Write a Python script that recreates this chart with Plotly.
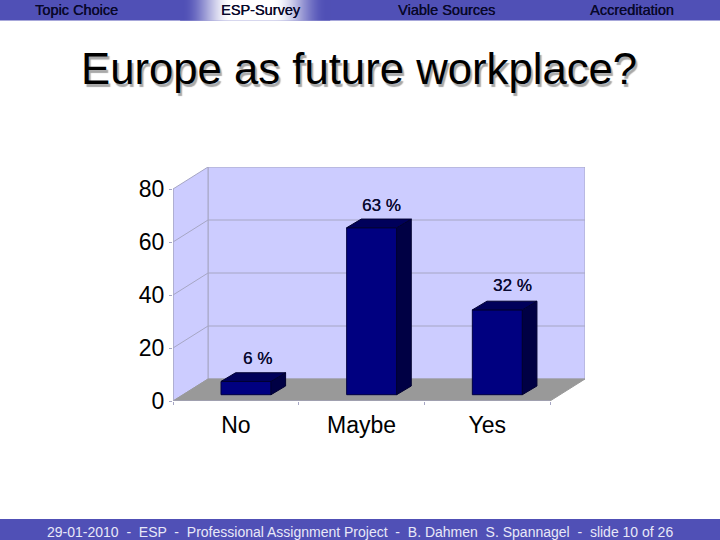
import plotly.graph_objects as go

# --- data ---
categories = ["No", "Maybe", "Yes"]
bar_values = [5, 63, 32]
bar_labels = ["6 %", "63 %", "32 %"]
y_ticks = [0, 20, 40, 60, 80]
nav_items = ["Topic Choice", "ESP-Survey", "Viable Sources", "Accreditation"]
title_text = "Europe as future workplace?"
footer_text = "29-01-2010  -  ESP  -  Professional Assignment Project  -  B. Dahmen  S. Spannagel  -  slide 10 of 26"

# --- layout geometry (pixels) ---
W, H = 720, 540
L, R, T, B = 173, 585, 167, 401
PX_X = 125.67   # px per category
PX_Y = 2.65     # px per value unit
DX, DY = 35 / PX_X, 22 / PX_Y   # chart depth in data units
FLOOR_FRONT = 6.3 / PX_Y        # bar base inset
BX, BY = 14.6 / PX_X, 8.7 / PX_Y  # bar depth
BAR_W = 50 / PX_X
BAR_OFF = (221 - 173) / PX_X
YMAX = 80
FRONT, SIDE, TOP = "#000080", "#000044", "#00005a"
BAND_RGB = (0x50, 0x50, 0xb6)
BAND = "rgb(%d,%d,%d)" % BAND_RGB
WALL = "#ccccff"
GRID = "#a6a6c4"

px = lambda x: (x - L) / (R - L)
py = lambda y: (B - y) / (B - T)


def rect_paper(x0, y0, x1, y1, color, **kw):
    return dict(type="rect", xref="paper", yref="paper", x0=px(x0), x1=px(x1),
                y0=py(y0), y1=py(y1), fillcolor=color, line_width=0, layer="below", **kw)


def smooth(t):
    t = min(1.0, max(0.0, t))
    return t * t * (3 - 2 * t)


shapes = [
    rect_paper(0, 0, W, 20.5, BAND),
    rect_paper(0, 519, W, H, BAND),
]
# highlighted tab gradient in the top band
for s in range(180, 330):
    a = smooth((s - 182) / 50) * (1 - smooth((s - 272) / 54))
    c = tuple(int(round(b + (255 - b) * a)) for b in BAND_RGB)
    shapes.append(rect_paper(s, 0, s + 1.2, 20.5, f"rgb{c}"))

line = dict(color=GRID, width=1)
# back wall, side wall, floor
shapes.append(dict(type="path", xref="x", yref="y", layer="below", fillcolor=WALL, line=line,
                   path=f"M {DX} {DY} L {3 + DX} {DY} L {3 + DX} {YMAX + DY} L {DX} {YMAX + DY} Z"))
shapes.append(dict(type="path", xref="x", yref="y", layer="below", fillcolor=WALL, line=line,
                   path=f"M 0 0 L {DX} {DY} L {DX} {YMAX + DY} L 0 {YMAX} Z"))
shapes.append(dict(type="path", xref="x", yref="y", layer="below", fillcolor="#999999",
                   line=dict(color="#999999", width=1),
                   path=f"M 0 0 L 3 0 L {3 + DX} {DY} L {DX} {DY} Z"))
for v in y_ticks[1:-1]:
    shapes.append(dict(type="line", xref="x", yref="y", layer="below", line=line,
                       x0=0, y0=v, x1=DX, y1=v + DY))
    shapes.append(dict(type="line", xref="x", yref="y", layer="below", line=line,
                       x0=DX, y0=v + DY, x1=3 + DX, y1=v + DY))
# front axis lines
shapes.append(dict(type="line", xref="x", yref="y", layer="below", line=line, x0=0, y0=0, x1=0, y1=YMAX))
shapes.append(dict(type="line", xref="x", yref="y", layer="below", line=line, x0=0, y0=0, x1=3, y1=0))

fig = go.Figure()
xs = [i + BAR_OFF for i in range(len(categories))]
fig.add_trace(go.Bar(
    x=[x + BAR_W / 2 for x in xs], y=bar_values, base=FLOOR_FRONT, width=BAR_W,
    marker=dict(color=FRONT, line=dict(color="#000040", width=1)), hoverinfo="skip", showlegend=False,
))
for x, v in zip(xs, bar_values):
    top = FLOOR_FRONT + v
    fig.add_trace(go.Scatter(
        x=[x + BAR_W, x + BAR_W + BX, x + BAR_W + BX, x + BAR_W, x + BAR_W],
        y=[FLOOR_FRONT, FLOOR_FRONT + BY, top + BY, top, FLOOR_FRONT],
        mode="lines", fill="toself", fillcolor=SIDE, line=dict(color="#000030", width=1),
        hoverinfo="skip", showlegend=False,
    ))
    fig.add_trace(go.Scatter(
        x=[x, x + BX, x + BAR_W + BX, x + BAR_W, x],
        y=[top, top + BY, top + BY, top, top],
        mode="lines", fill="toself", fillcolor=TOP, line=dict(color="#000030", width=1),
        hoverinfo="skip", showlegend=False,
    ))

annotations = []


def text(x, y, s, size, color="#000000", shadow=None):
    annotations.append(dict(xref="paper", yref="paper", x=px(x), y=py(y), text=s, showarrow=False,
                            font=dict(size=size, color=color, family="Liberation Sans",
                                      shadow=shadow or "none"),
                            xanchor="center", yanchor="middle"))


for x, s in zip([76.5, 261, 446.5, 632], nav_items):
    text(x, 10.5, s, 14.5, "#08082a", shadow="0.35px 0 0 #08082a")
text(359, 69, title_text, 43.7, "#000000", shadow="2px 3px 1px #a8a8a8")
text(360, 532, footer_text, 14, "#e8e8f8")

label_nudge_px = [4, 3, 8]
label_rise_px = [14, 14, 16]
for x, v, s, nx, r in zip(xs, bar_values, bar_labels, label_nudge_px, label_rise_px):
    annotations.append(dict(
        xref="x", yref="y", x=x + (BAR_W + BX) / 2, y=FLOOR_FRONT + v + BY,
        text=s, showarrow=False, xshift=nx, yshift=r,
        font=dict(size=17, color="#0a0a30", family="Liberation Sans", shadow="0.35px 0 0 #0a0a30"),
        xanchor="center", yanchor="middle",
    ))

fig.update_layout(
    width=W, height=H, autosize=False, paper_bgcolor="white", plot_bgcolor="rgba(0,0,0,0)",
    margin=dict(l=L, r=W - R, t=T, b=H - B, pad=0),
    barmode="overlay", showlegend=False, shapes=shapes, annotations=annotations,
    font=dict(family="Liberation Sans", color="#000000"),
)
fig.update_xaxes(
    range=[0, (R - L) / PX_X], showgrid=False, zeroline=False, showline=False,
    tickmode="array", tickvals=[i + 0.5 for i in range(len(categories))], ticktext=categories,
    ticks="", tickfont=dict(size=23), ticklabelstandoff=8,
    minor=dict(tickmode="array", tickvals=list(range(len(categories) + 1)), ticks="outside",
               ticklen=3, tickcolor=GRID, tickwidth=1),
)
fig.update_yaxes(
    range=[0, (B - T) / PX_Y], showgrid=False, zeroline=False, showline=False,
    tickmode="array", tickvals=y_ticks, ticks="outside", ticklen=3, tickcolor=GRID,
    tickwidth=1, tickfont=dict(size=23),
)
fig.write_html("out.html", config=dict(displayModeBar=False),
               post_script="document.body.style.margin='0';")
